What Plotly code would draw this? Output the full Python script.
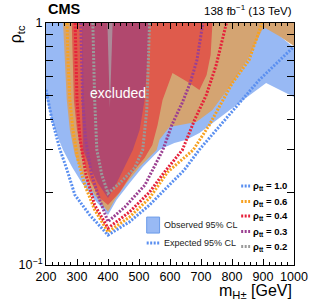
import plotly.graph_objects as go

# ---------------- data (m_H+- in GeV, rho_tc) ----------------
rho_tt_labels = ["1.0", "0.6", "0.4", "0.3", "0.2"]

# Observed 95% CL excluded regions (closed boundaries)
obs10_m = [200, 200, 219, 235, 255, 284, 316, 357, 400, 428, 470, 512, 566, 576, 614, 653, 695, 737, 823, 910, 1000, 1000, 904, 200]
obs10_r = [1.0, 0.494, 0.397, 0.345, 0.299, 0.254, 0.218, 0.186, 0.161, 0.186, 0.218, 0.254, 0.299, 0.304, 0.319, 0.329, 0.351, 0.386, 0.467, 0.565, 0.494, 0.79, 1.0, 1.0]

obs06_m = [255, 261, 267, 277, 293, 319, 357, 400, 422, 460, 502, 557, 566, 598, 647, 685, 737, 801, 855, 897, 907, 952, 1000, 1000, 255]
obs06_r = [1.0, 0.703, 0.481, 0.361, 0.285, 0.236, 0.195, 0.166, 0.186, 0.218, 0.254, 0.299, 0.329, 0.372, 0.383, 0.390, 0.437, 0.565, 0.724, 0.935, 0.953, 0.883, 0.803, 1.0, 1.0]

obs04_m = [283, 287, 290, 300, 316, 341, 373, 400, 438, 480, 518, 543, 560, 576, 598, 608, 657, 695, 718, 731, 737, 283]
obs04_r = [1.0, 0.703, 0.481, 0.361, 0.285, 0.225, 0.189, 0.177, 0.200, 0.242, 0.277, 0.313, 0.379, 0.481, 0.581, 0.621, 0.570, 0.529, 0.610, 0.738, 1.0, 1.0]

obs03_m = [316, 316, 319, 341, 367, 400, 428, 454, 480, 502, 518, 528, 534, 316]
obs03_r = [1.0, 0.481, 0.300, 0.254, 0.218, 0.189, 0.218, 0.254, 0.299, 0.361, 0.481, 0.703, 1.0, 1.0]

obs02_m = [398, 406, 415]
obs02_r = [1.0, 0.445, 1.0]

# Expected 95% CL contours
exp10_m = [200, 219, 245, 268, 293, 341, 400, 470, 534, 598, 646, 695, 791, 887, 1000]
exp10_r = [0.53, 0.40, 0.30, 0.247, 0.195, 0.161, 0.133, 0.151, 0.177, 0.214, 0.247, 0.30, 0.417, 0.58, 0.80]
exp06_m = [268, 271, 277, 287, 303, 325, 357, 400, 470, 534, 592, 675, 727, 801, 855, 897]
exp06_r = [1.0, 0.703, 0.481, 0.361, 0.272, 0.214, 0.169, 0.137, 0.158, 0.189, 0.242, 0.299, 0.379, 0.565, 0.703, 1.0]
exp04_m = [294, 297, 300, 310, 329, 357, 400, 470, 534, 582, 640, 679, 717, 749, 782]
exp04_r = [1.0, 0.703, 0.481, 0.329, 0.236, 0.177, 0.142, 0.166, 0.200, 0.242, 0.299, 0.397, 0.504, 0.670, 1.0]
exp03_m = [312, 315, 318, 328, 347, 373, 400, 455, 519, 577, 606, 639, 665, 687, 706]
exp03_r = [1.0, 0.703, 0.481, 0.329, 0.236, 0.186, 0.151, 0.174, 0.214, 0.299, 0.379, 0.467, 0.565, 0.703, 1.0]
exp02_m = [351, 357, 364, 380, 400, 438, 486, 512, 525, 531, 534]
exp02_r = [1.0, 0.481, 0.299, 0.236, 0.198, 0.218, 0.252, 0.299, 0.437, 0.703, 1.0]

x_ticks = [200, 300, 400, 500, 600, 700, 800, 900, 1000]
y_tickvals = [0.1, 1.0]
y_ticktext = ["10<sup>\u22121</sup>", "1"]
y_minorvals = [0.2, 0.3, 0.4, 0.5, 0.6, 0.7, 0.8, 0.9]

# ---------------- styles ----------------
FONT = "Liberation Sans, Arial, Helvetica, sans-serif"
fill_cols = ["#98b9f4", "#d4a472", "#df5b4c", "#b1486e", "rgba(170,150,160,0.85)"]
line_cols = ["#5a8ff0", "#f7a11f", "#e6213a", "#9b3f91", "#9a9a9a"]
DASH = "2px,1.5px"

obs = [(obs10_m, obs10_r), (obs06_m, obs06_r), (obs04_m, obs04_r), (obs03_m, obs03_r), (obs02_m, obs02_r)]
exp = [(exp10_m, exp10_r), (exp06_m, exp06_r), (exp04_m, exp04_r), (exp03_m, exp03_r), (exp02_m, exp02_r)]

fig = go.Figure()
for (m, r), c in zip(obs, fill_cols):
    fig.add_trace(go.Scatter(x=m, y=r, mode="lines", fill="toself", fillcolor=c,
                             line=dict(width=0, color=c), hoverinfo="skip", showlegend=False))
for (m, r), c in zip(exp, line_cols):
    fig.add_trace(go.Scatter(x=m, y=r, mode="lines", line=dict(width=3, color=c, dash=DASH),
                             hoverinfo="skip", showlegend=False))

fig.update_layout(
    width=310, height=301, autosize=False,
    margin=dict(l=46, r=16, t=23, b=36, autoexpand=False),
    paper_bgcolor="white", plot_bgcolor="white",
    font=dict(family=FONT, color="black", size=12),
    showlegend=False,
)
fig.update_xaxes(
    range=[200, 1000], tickvals=x_ticks, ticks="inside", ticklen=6, tickwidth=1, automargin=False,
    tickcolor="black", showline=True, linecolor="black", linewidth=1, mirror="ticks",
    showgrid=False, zeroline=False, tickfont=dict(size=12.5, family=FONT),
    minor=dict(dtick=20, tick0=200, ticks="inside", ticklen=3, tickcolor="black", showgrid=False),
)
fig.update_yaxes(
    type="log", range=[-1, 0], tickvals=y_tickvals, ticktext=y_ticktext, ticks="inside",
    ticklen=7, tickwidth=1, tickcolor="black", showline=True, linecolor="black", linewidth=1,
    mirror="ticks", showgrid=False, zeroline=False, tickfont=dict(size=12.5, family=FONT),
    automargin=False,
    minor=dict(tickmode="array", tickvals=y_minorvals, ticks="inside", ticklen=7,
               tickcolor="black", showgrid=False),
)

ann = []
ann.append(dict(text="<b>CMS</b>", x=0, y=1.015, xref="paper", yref="paper", xanchor="left",
                yanchor="bottom", showarrow=False, font=dict(size=14.5, family=FONT)))
ann.append(dict(text="138 fb<sup>\u22121</sup> (13 TeV)", x=1.0, y=1.015, xref="paper", yref="paper",
                xanchor="right", yanchor="bottom", showarrow=False, font=dict(size=11.5, family=FONT)))
ann.append(dict(text="m<sub>H\u00b1</sub> [GeV]", x=1.0, y=-0.062, xref="paper", yref="paper",
                xanchor="right", yanchor="top", showarrow=False, font=dict(size=16, family=FONT)))
ann.append(dict(text="\u03c1<sub>tc</sub>", x=-0.12, y=1.0, xref="paper", yref="paper", textangle=-90,
                xanchor="center", yanchor="top", showarrow=False, font=dict(size=16, family=FONT)))
ann.append(dict(text="excluded", x=431, y=-0.289, xref="x", yref="y", showarrow=False,
                font=dict(size=14, family=FONT, color="white")))

# legend: rho_tt expected lines
leg_y = [0.326, 0.262, 0.202, 0.138, 0.076]
shapes = []
for lab, c, yy in zip(rho_tt_labels, line_cols, leg_y):
    shapes.append(dict(type="line", xref="paper", yref="paper", x0=0.787, x1=0.823, y0=yy, y1=yy,
                       line=dict(color=c, width=3, dash=DASH)))
    ann.append(dict(text="<b>\u03c1<sub>tt</sub> = " + lab + "</b>", x=0.827, y=yy, xref="paper",
                    yref="paper", xanchor="left", yanchor="middle", showarrow=False,
                    font=dict(size=9.5, family=FONT)))
# legend: observed / expected
shapes.append(dict(type="rect", xref="paper", yref="paper", x0=0.406, x1=0.458, y0=0.132, y1=0.198,
                   fillcolor=fill_cols[0], line=dict(color="#6b9be9", width=1)))
shapes.append(dict(type="line", xref="paper", yref="paper", x0=0.406, x1=0.458, y0=0.091, y1=0.091,
                   line=dict(color=line_cols[0], width=3, dash=DASH)))
ann.append(dict(text="Observed 95% CL", x=0.466, y=0.165, xref="paper", yref="paper", xanchor="left",
                yanchor="middle", showarrow=False, font=dict(size=9, family=FONT, color="#222")))
ann.append(dict(text="Expected 95% CL", x=0.466, y=0.091, xref="paper", yref="paper", xanchor="left",
                yanchor="middle", showarrow=False, font=dict(size=9, family=FONT, color="#222")))

fig.update_layout(annotations=ann, shapes=shapes)
fig.write_html("out.html", config={"displayModeBar": False},
               post_script="document.body.style.margin='0px';document.body.style.overflow='hidden';")
